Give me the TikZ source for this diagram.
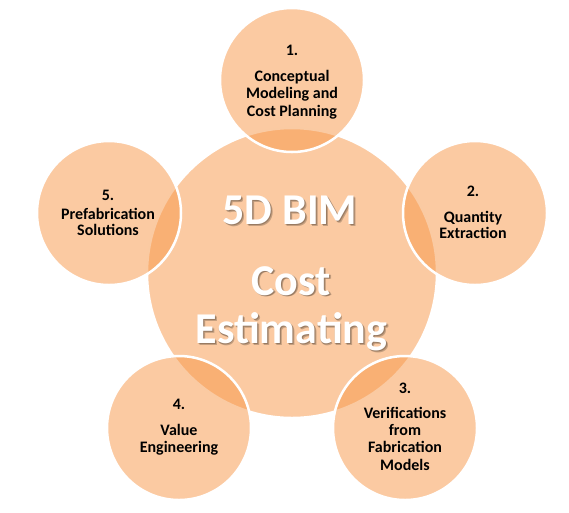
\documentclass[tikz,border=0pt]{standalone}
\usepackage{fontspec}
\setmainfont{Carlito}
\definecolor{orangeA}{HTML}{F79646}
\tikzset{
  bigcirc/.style={circle, minimum size=290pt, inner sep=0pt, fill=orangeA, fill opacity=0.5, draw=white, line width=2.5pt},
  smallcirc/.style={circle, minimum size=144pt, inner sep=0pt, fill=orangeA, fill opacity=0.5, draw=white, line width=2.5pt},
  smalltxt/.style={anchor=base, inner sep=0pt, font=\fontsize{16}{18}\selectfont\bfseries, text=black},
  bigtxt/.style={anchor=base, inner sep=0pt, font=\fontsize{44}{50}\selectfont\bfseries, text=white},
  bigshadow/.style={anchor=base, inner sep=0pt, font=\fontsize{44}{50}\selectfont\bfseries, text=black, text opacity=0.22}
}
\begin{document}
\begin{tikzpicture}[x=1pt,y=-1pt]
\useasboundingbox (0,0) rectangle (569,512);
% central circle
\node[bigcirc] (center) at (292,273) {};
% outer circles
\node[smallcirc] (c1) at (292,80) {};
\node[smallcirc] (c2) at (475,213) {};
\node[smallcirc] (c3) at (405,428) {};
\node[smallcirc] (c4) at (179,428) {};
\node[smallcirc] (c5) at (109,213) {};
% big title shadows
\node[bigshadow] (s1a) at (291.8,226.1) {5D BIM};
\node[bigshadow] (s2a) at (292.8,296.8) {Cost};
\node[bigshadow] (s3a) at (293.3,345.1) {Estimating};
\node[bigshadow] (s1b) at (290.8,225.3) {5D BIM};
\node[bigshadow] (s2b) at (291.8,296.0) {Cost};
\node[bigshadow] (s3b) at (292.3,344.3) {Estimating};
% big title
\node[bigtxt] (t1) at (290,224.3) {5D BIM};
\node[bigtxt] (t2) at (291,295) {Cost};
\node[bigtxt] (t3) at (291.5,343.3) {Estimating};
% circle 1
\node[smalltxt] (n1) at (292,55) {1.};
\node[smalltxt] (a1) at (292,81) {Conceptual};
\node[smalltxt] (a2) at (292,98.5) {Modeling and};
\node[smalltxt] (a3) at (292,116) {Cost Planning};
% circle 2
\node[smalltxt] (n2) at (473,196) {2.};
\node[smalltxt] (b1) at (473,222) {Quantity};
\node[smalltxt] (b2) at (473,238.5) {Extraction};
% circle 3
\node[smalltxt] (n3) at (405,393) {3.};
\node[smalltxt] (d1) at (405,418) {Verifications};
\node[smalltxt] (d2) at (405,435.3) {from};
\node[smalltxt] (d3) at (405,452.5) {Fabrication};
\node[smalltxt] (d4) at (405,470) {Models};
% circle 4
\node[smalltxt] (n4) at (179,409) {4.};
\node[smalltxt] (e1) at (179,435) {Value};
\node[smalltxt] (e2) at (179,452) {Engineering};
% circle 5
\node[smalltxt] (n5) at (108,200) {5.};
\node[smalltxt] (f1) at (108,219.3) {Prefabrication};
\node[smalltxt] (f2) at (108,235.5) {Solutions};
\end{tikzpicture}
\end{document}
